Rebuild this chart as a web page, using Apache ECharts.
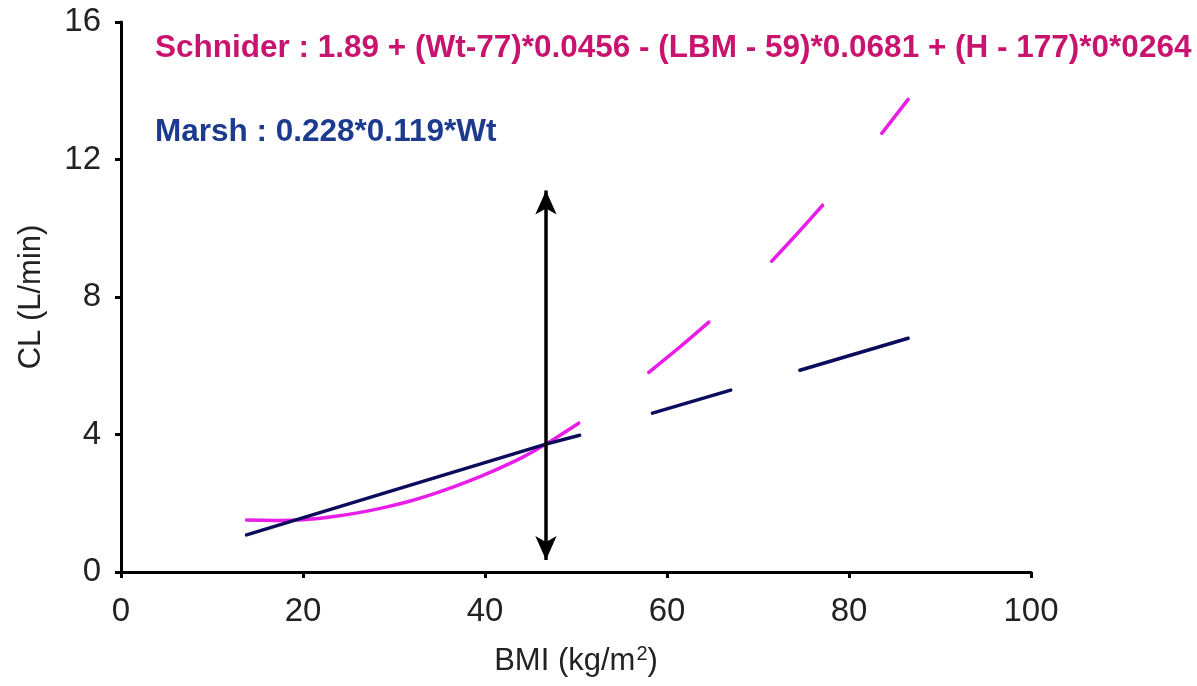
<!DOCTYPE html>
<html>
<head>
<meta charset="utf-8">
<script src="https://cdn.jsdelivr.net/npm/echarts@6/dist/echarts.min.js"></script>
<style>html,body{margin:0;padding:0;background:#fff;}#c{width:1197px;height:686px;}</style>
</head>
<body>
<div id="c"></div>
<script>
// BMI (x) vs CL (y); null = visible gap in the dashed part
const schniderBMI = [13.8, 17, 20, 23, 26, 29, 32, 35, 38, 41, 44, 46.7, 50.3, null, 58.0, 61.3, 64.6, null, 71.5, 74.3, 77.1, null, 83.6, 86.5];
const schniderCL  = [1.51, 1.50, 1.52, 1.60, 1.72, 1.88, 2.08, 2.33, 2.62, 2.95, 3.32, 3.72, 4.33, null, 5.81, 6.52, 7.27, null, 9.04, 9.84, 10.67, null, 12.76, 13.75];
const marshBMI = [13.8, 30, 46.7, 50.4, null, 58.4, 67.0, null, 74.6, 86.5];
const marshCL  = [1.08, 2.38, 3.72, 3.98, null, 4.62, 5.29, null, 5.87, 6.80];
const arrowBMI = 46.7;
const arrowCL = [0.35, 11.1];
const xTicks = [0, 20, 40, 60, 80, 100];
const yTicks = [0, 4, 8, 12, 16];
const schniderLabel = 'Schnider : 1.89 + (Wt-77)*0.0456 - (LBM - 59)*0.0681 + (H - 177)*0*0264';
const marshLabel = 'Marsh : 0.228*0.119*Wt';

function pairs(xs, ys) { return xs.map((x, i) => (x === null ? [null, null] : [x, ys[i]])); }

const chart = echarts.init(document.getElementById('c'), null, {renderer: 'canvas'});
const FF = 'Liberation Sans, Arial, sans-serif';
chart.setOption({
  animation: false,
  backgroundColor: '#fff',
  grid: {left: 121, right: 166, top: 22, bottom: 114},
  xAxis: {
    type: 'value', min: xTicks[0], max: xTicks[xTicks.length - 1], interval: 20,
    name: 'BMI (kg/m{sup|2})', nameLocation: 'middle', nameGap: 72,
    nameTextStyle: {fontFamily: FF, fontSize: 31, color: '#222',
      rich: {sup: {fontFamily: FF, fontSize: 20, color: '#222', verticalAlign: 'top', padding: [0, 0, 14, 1]}}},
    axisLine: {show: true, lineStyle: {color: '#000', width: 3}},
    axisTick: {show: true, length: 6, lineStyle: {color: '#000', width: 3}},
    axisLabel: {margin: 23, fontFamily: FF, fontSize: 33, color: '#222'},
    splitLine: {show: false}
  },
  yAxis: {
    type: 'value', min: yTicks[0], max: yTicks[yTicks.length - 1], interval: 4,
    name: 'CL (L/min)', nameLocation: 'middle', nameGap: 74,
    nameTextStyle: {fontFamily: FF, fontSize: 31, color: '#222'},
    axisLine: {show: true, lineStyle: {color: '#000', width: 3}},
    axisTick: {show: true, length: 6, lineStyle: {color: '#000', width: 3}},
    axisLabel: {margin: 20, fontFamily: FF, fontSize: 33, color: '#222'},
    splitLine: {show: false}
  },
  graphic: [
    {type: 'text', left: 155, top: 32, style: {text: schniderLabel, fill: '#C8146E', font: 'bold 31.5px "Liberation Sans Narrow", "Arial Narrow", sans-serif'}},
    {type: 'text', left: 155, top: 116, style: {text: marshLabel, fill: '#1C3A8E', font: 'bold 31.5px "Liberation Sans Narrow", "Arial Narrow", sans-serif'}}
  ],
  series: [
    {
      name: 'Schnider', type: 'line', data: pairs(schniderBMI, schniderCL), smooth: 0.15,
      showSymbol: false, connectNulls: false,
      lineStyle: {color: '#E81EE8', width: 3.5, cap: 'round', join: 'round'}
    },
    {
      name: 'Marsh', type: 'line', data: pairs(marshBMI, marshCL), smooth: false,
      showSymbol: false, connectNulls: false,
      lineStyle: {color: '#0C0C5C', width: 3.5, cap: 'round'}
    },
    {
      name: 'arrow', type: 'line', data: [], silent: true,
      markLine: {
        silent: true, symbol: ['arrow', 'arrow'], symbolSize: [16, 24],
        label: {show: false},
        lineStyle: {color: '#000', width: 3.5, type: 'solid'},
        data: [[{coord: [arrowBMI, arrowCL[0]]}, {coord: [arrowBMI, arrowCL[1]]}]]
      }
    }
  ]
});
</script>
</body>
</html>
